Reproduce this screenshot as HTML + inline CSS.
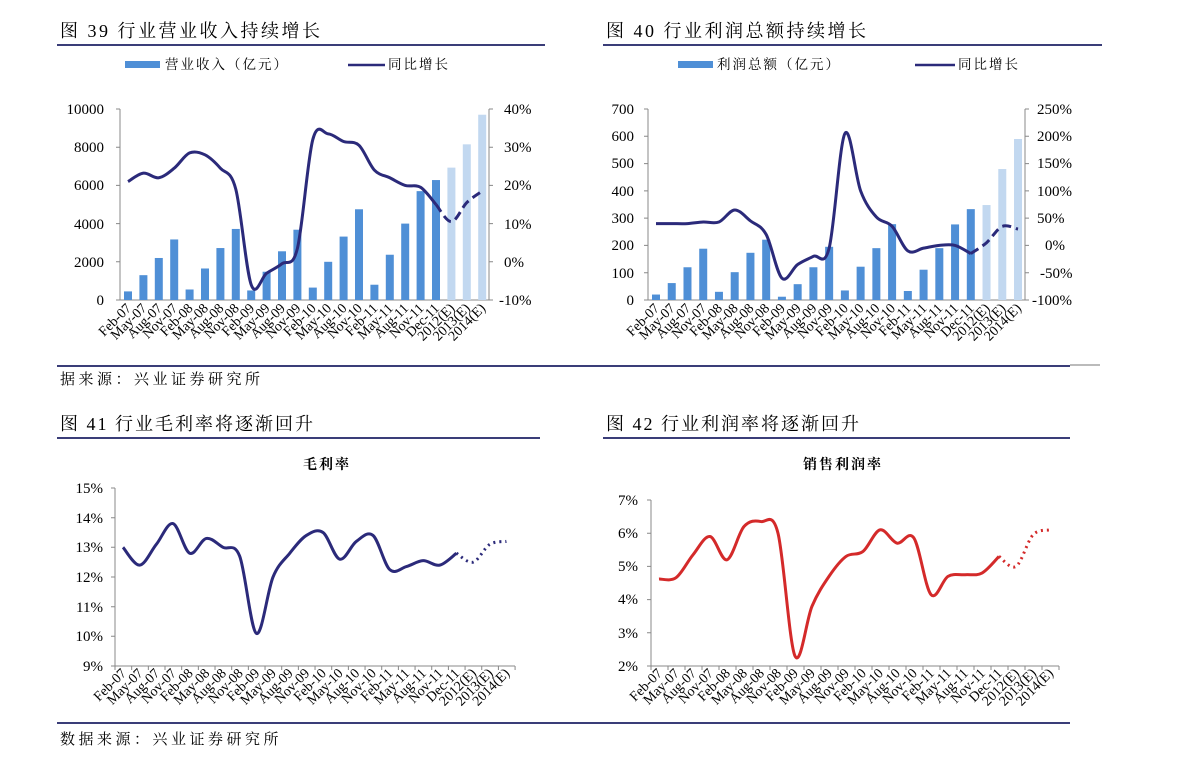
<!DOCTYPE html>
<html><head><meta charset="utf-8"><style>
body{margin:0;background:#fff;width:1191px;height:767px;overflow:hidden}
svg{position:absolute;left:0;top:0}
text{font-family:"Liberation Serif","Noto Serif CJK SC",serif;fill:#000}
.h{font-family:"Liberation Serif","Noto Serif CJK SC",serif;font-size:18px;letter-spacing:2.5px}
.h2{font-family:"Liberation Serif","Noto Serif CJK SC",serif;font-size:18px;letter-spacing:2px}
.lg{font-family:"Liberation Serif","Noto Serif CJK SC",serif;font-size:13.5px;letter-spacing:2px}
.src{font-size:15px;letter-spacing:3.5px}
.t{font-size:15px}
.x{font-size:14px}
</style></head><body>
<svg width="1191" height="767" viewBox="0 0 1191 767">
<text class="h" x="60" y="37">图 39 行业营业收入持续增长</text>
<text class="h" x="606" y="37">图 40 行业利润总额持续增长</text>
<line x1="57" y1="45" x2="545" y2="45" stroke="#3a3d78" stroke-width="2"/>
<line x1="603" y1="45" x2="1102" y2="45" stroke="#3a3d78" stroke-width="2"/>
<rect x="125" y="61" width="35" height="7" fill="#4f8fd6"/>
<text class="lg" x="165" y="69">营业收入（亿元）</text>
<line x1="348" y1="65" x2="385" y2="65" stroke="#2b2a7a" stroke-width="2.5"/>
<text class="lg" x="388" y="69">同比增长</text>
<rect x="678" y="61" width="35" height="7" fill="#4f8fd6"/>
<text class="lg" x="717" y="69">利润总额（亿元）</text>
<line x1="915" y1="65" x2="955" y2="65" stroke="#2b2a7a" stroke-width="2.5"/>
<text class="lg" x="958" y="69">同比增长</text>

<line x1="57" y1="366" x2="1070" y2="366" stroke="#3a3d78" stroke-width="2"/>
<line x1="1070" y1="365" x2="1100" y2="365" stroke="#777" stroke-width="1"/>
<text class="src" x="60" y="384">据来源：兴业证券研究所</text>
<text class="h2" x="60" y="430">图 41 行业毛利率将逐渐回升</text>
<text class="h2" x="606" y="430">图 42 行业利润率将逐渐回升</text>
<line x1="57" y1="438" x2="540" y2="438" stroke="#3a3d78" stroke-width="2"/>
<line x1="603" y1="438" x2="1070" y2="438" stroke="#3a3d78" stroke-width="2"/>
<line x1="57" y1="723" x2="1070" y2="723" stroke="#3a3d78" stroke-width="2"/>
<text class="src" x="60" y="744">数据来源：兴业证券研究所</text>

<g stroke="#888" stroke-width="1" fill="none">
<path d="M120,109V300H489V109"/>
<path d="M116,109H120M116,147.2H120M116,185.4H120M116,223.6H120M116,261.8H120M116,300H120"/>
<path d="M489,109H493M489,147.2H493M489,185.4H493M489,223.6H493M489,261.8H493M489,300H493"/>
<path d="M648,109V300H1025V109"/>
<path d="M644,109H648M644,136.3H648M644,163.6H648M644,190.9H648M644,218.1H648M644,245.4H648M644,272.7H648M644,300H648"/>
<path d="M1025,109H1029M1025,136.3H1029M1025,163.6H1029M1025,190.9H1029M1025,218.1H1029M1025,245.4H1029M1025,272.7H1029M1025,300H1029"/>
<path d="M115,488V666H515"/>
<path d="M111,488H115M111,517.7H115M111,547.3H115M111,577H115M111,606.7H115M111,636.3H115M111,666H115"/>
<path d="M651,500V666H1059"/>
<path d="M647,500H651M647,533.2H651M647,566.4H651M647,599.6H651M647,632.8H651M647,666H651"/>
</g>
<g id="ticks3" stroke="#888"></g>
<g id="bars"></g>
<g id="lines"></g>

<g class="t" text-anchor="end">
<text x="104" y="114">10000</text><text x="104" y="152">8000</text><text x="104" y="190">6000</text><text x="104" y="229">4000</text><text x="104" y="267">2000</text><text x="104" y="305">0</text>
<text x="634" y="114">700</text><text x="634" y="141">600</text><text x="634" y="168">500</text><text x="634" y="196">400</text><text x="634" y="223">300</text><text x="634" y="250">200</text><text x="634" y="278">100</text><text x="634" y="305">0</text>
<text x="103" y="493">15%</text><text x="103" y="523">14%</text><text x="103" y="552">13%</text><text x="103" y="582">12%</text><text x="103" y="612">11%</text><text x="103" y="641">10%</text><text x="103" y="671">9%</text>
<text x="638" y="505">7%</text><text x="638" y="538">6%</text><text x="638" y="571">5%</text><text x="638" y="604">4%</text><text x="638" y="638">3%</text><text x="638" y="671">2%</text>
</g>
<g class="t">
<text x="504" y="114">40%</text><text x="504" y="152">30%</text><text x="504" y="190">20%</text><text x="504" y="229">10%</text><text x="504" y="267">0%</text><text x="499" y="305">-10%</text>
<text x="1037" y="114">250%</text><text x="1037" y="141">200%</text><text x="1037" y="168">150%</text><text x="1037" y="196">100%</text><text x="1037" y="223">50%</text><text x="1045" y="250">0%</text><text x="1040" y="278">-50%</text><text x="1032" y="305">-100%</text>
</g>
<text x="327" y="469" font-size="14" font-weight="bold" text-anchor="middle" letter-spacing="2">毛利率</text>
<text x="843" y="469" font-size="14" font-weight="bold" text-anchor="middle" letter-spacing="2">销售利润率</text>

<g class="x" text-anchor="end">
<text transform="translate(132,309) rotate(-45)">Feb-07</text>
<text transform="translate(147.4,309) rotate(-45)">May-07</text>
<text transform="translate(162.8,309) rotate(-45)">Aug-07</text>
<text transform="translate(178.2,309) rotate(-45)">Nov-07</text>
<text transform="translate(193.6,309) rotate(-45)">Feb-08</text>
<text transform="translate(209,309) rotate(-45)">May-08</text>
<text transform="translate(224.4,309) rotate(-45)">Aug-08</text>
<text transform="translate(239.8,309) rotate(-45)">Nov-08</text>
<text transform="translate(255.2,309) rotate(-45)">Feb-09</text>
<text transform="translate(270.6,309) rotate(-45)">May-09</text>
<text transform="translate(286,309) rotate(-45)">Aug-09</text>
<text transform="translate(301.4,309) rotate(-45)">Nov-09</text>
<text transform="translate(316.8,309) rotate(-45)">Feb-10</text>
<text transform="translate(332.2,309) rotate(-45)">May-10</text>
<text transform="translate(347.6,309) rotate(-45)">Aug-10</text>
<text transform="translate(363,309) rotate(-45)">Nov-10</text>
<text transform="translate(378.4,309) rotate(-45)">Feb-11</text>
<text transform="translate(393.8,309) rotate(-45)">May-11</text>
<text transform="translate(409.2,309) rotate(-45)">Aug-11</text>
<text transform="translate(424.6,309) rotate(-45)">Nov-11</text>
<text transform="translate(440,309) rotate(-45)">Dec-11</text>
<text transform="translate(455.4,309) rotate(-45)">2012(E)</text>
<text transform="translate(470.8,309) rotate(-45)">2013(E)</text>
<text transform="translate(486.2,309) rotate(-45)">2014(E)</text>
</g>
<g class="x" text-anchor="end">
<text transform="translate(660,309) rotate(-45)">Feb-07</text>
<text transform="translate(675.7,309) rotate(-45)">May-07</text>
<text transform="translate(691.5,309) rotate(-45)">Aug-07</text>
<text transform="translate(707.2,309) rotate(-45)">Nov-07</text>
<text transform="translate(723,309) rotate(-45)">Feb-08</text>
<text transform="translate(738.7,309) rotate(-45)">May-08</text>
<text transform="translate(754.4,309) rotate(-45)">Aug-08</text>
<text transform="translate(770.2,309) rotate(-45)">Nov-08</text>
<text transform="translate(785.9,309) rotate(-45)">Feb-09</text>
<text transform="translate(801.7,309) rotate(-45)">May-09</text>
<text transform="translate(817.4,309) rotate(-45)">Aug-09</text>
<text transform="translate(833.1,309) rotate(-45)">Nov-09</text>
<text transform="translate(848.9,309) rotate(-45)">Feb-10</text>
<text transform="translate(864.6,309) rotate(-45)">May-10</text>
<text transform="translate(880.4,309) rotate(-45)">Aug-10</text>
<text transform="translate(896.1,309) rotate(-45)">Nov-10</text>
<text transform="translate(911.8,309) rotate(-45)">Feb-11</text>
<text transform="translate(927.6,309) rotate(-45)">May-11</text>
<text transform="translate(943.3,309) rotate(-45)">Aug-11</text>
<text transform="translate(959.1,309) rotate(-45)">Nov-11</text>
<text transform="translate(974.8,309) rotate(-45)">Dec-11</text>
<text transform="translate(990.5,309) rotate(-45)">2012(E)</text>
<text transform="translate(1006.3,309) rotate(-45)">2013(E)</text>
<text transform="translate(1022,309) rotate(-45)">2014(E)</text>
</g>
<g class="x" text-anchor="end">
<text transform="translate(127,674) rotate(-45)">Feb-07</text>
<text transform="translate(143.7,674) rotate(-45)">May-07</text>
<text transform="translate(160.3,674) rotate(-45)">Aug-07</text>
<text transform="translate(177,674) rotate(-45)">Nov-07</text>
<text transform="translate(193.7,674) rotate(-45)">Feb-08</text>
<text transform="translate(210.3,674) rotate(-45)">May-08</text>
<text transform="translate(227,674) rotate(-45)">Aug-08</text>
<text transform="translate(243.7,674) rotate(-45)">Nov-08</text>
<text transform="translate(260.3,674) rotate(-45)">Feb-09</text>
<text transform="translate(277,674) rotate(-45)">May-09</text>
<text transform="translate(293.7,674) rotate(-45)">Aug-09</text>
<text transform="translate(310.3,674) rotate(-45)">Nov-09</text>
<text transform="translate(327,674) rotate(-45)">Feb-10</text>
<text transform="translate(343.7,674) rotate(-45)">May-10</text>
<text transform="translate(360.3,674) rotate(-45)">Aug-10</text>
<text transform="translate(377,674) rotate(-45)">Nov-10</text>
<text transform="translate(393.7,674) rotate(-45)">Feb-11</text>
<text transform="translate(410.3,674) rotate(-45)">May-11</text>
<text transform="translate(427,674) rotate(-45)">Aug-11</text>
<text transform="translate(443.7,674) rotate(-45)">Nov-11</text>
<text transform="translate(460.3,674) rotate(-45)">Dec-11</text>
<text transform="translate(477,674) rotate(-45)">2012(E)</text>
<text transform="translate(493.7,674) rotate(-45)">2013(E)</text>
<text transform="translate(510.3,674) rotate(-45)">2014(E)</text>
</g>
<g class="x" text-anchor="end">
<text transform="translate(663,674) rotate(-45)">Feb-07</text>
<text transform="translate(680,674) rotate(-45)">May-07</text>
<text transform="translate(697,674) rotate(-45)">Aug-07</text>
<text transform="translate(714,674) rotate(-45)">Nov-07</text>
<text transform="translate(731,674) rotate(-45)">Feb-08</text>
<text transform="translate(748,674) rotate(-45)">May-08</text>
<text transform="translate(765,674) rotate(-45)">Aug-08</text>
<text transform="translate(782,674) rotate(-45)">Nov-08</text>
<text transform="translate(799,674) rotate(-45)">Feb-09</text>
<text transform="translate(816,674) rotate(-45)">May-09</text>
<text transform="translate(833,674) rotate(-45)">Aug-09</text>
<text transform="translate(850,674) rotate(-45)">Nov-09</text>
<text transform="translate(867,674) rotate(-45)">Feb-10</text>
<text transform="translate(884,674) rotate(-45)">May-10</text>
<text transform="translate(901,674) rotate(-45)">Aug-10</text>
<text transform="translate(918,674) rotate(-45)">Nov-10</text>
<text transform="translate(935,674) rotate(-45)">Feb-11</text>
<text transform="translate(952,674) rotate(-45)">May-11</text>
<text transform="translate(969,674) rotate(-45)">Aug-11</text>
<text transform="translate(986,674) rotate(-45)">Nov-11</text>
<text transform="translate(1003,674) rotate(-45)">Dec-11</text>
<text transform="translate(1020,674) rotate(-45)">2012(E)</text>
<text transform="translate(1037,674) rotate(-45)">2013(E)</text>
<text transform="translate(1054,674) rotate(-45)">2014(E)</text>
</g>
</svg>
<script>
const NS="http://www.w3.org/2000/svg";
const bars=document.getElementById('bars'),lines=document.getElementById('lines'),tk=document.getElementById('ticks3');
function el(p,n,a){const e=document.createElementNS(NS,n);for(const k in a)e.setAttribute(k,a[k]);p.appendChild(e);return e;}
function cr(pts){let d="M"+pts[0][0]+","+pts[0][1];for(let i=0;i<pts.length-1;i++){const p0=pts[Math.max(0,i-1)],p1=pts[i],p2=pts[i+1],p3=pts[Math.min(pts.length-1,i+2)];
d+=` C${p1[0]+(p2[0]-p0[0])/6},${p1[1]+(p2[1]-p0[1])/6} ${p2[0]-(p3[0]-p1[0])/6},${p2[1]-(p3[1]-p1[1])/6} ${p2[0]},${p2[1]}`;}return d;}
function chart(x0,dx,vals,fy,color,split,dash,w){const pts=vals.map((v,i)=>[x0+i*dx,fy(v)]);
el(lines,'path',{d:cr(pts.slice(0,split+1)),stroke:color,'stroke-width':w,fill:'none'});
el(lines,'path',{d:cr(pts.slice(split)),stroke:color,'stroke-width':w,fill:'none','stroke-dasharray':dash});}
const b1=[450,1300,2200,3170,550,1650,2720,3720,500,1480,2550,3680,650,2000,3320,4750,800,2370,4000,5700,6280,6930,8150,9700];
b1.forEach((v,i)=>{const h=v/10000*191;el(bars,'rect',{x:128+i*15.4-4,y:300-h,width:8,height:h,fill:i>20?'#c2d8f0':'#4f8fd6'});});
const b2=[20,62,120,188,30,102,173,221,12,58,120,195,35,122,190,278,33,111,190,277,333,348,480,590];
b2.forEach((v,i)=>{const h=v/700*191;el(bars,'rect',{x:656+i*15.74-4,y:300-h,width:8,height:h,fill:i>20?'#c2d8f0':'#4f8fd6'});});
chart(128,15.4,[21,23.2,22,24.5,28.5,28,24.5,19,-6,-3,-0.5,3.5,32,33.5,31.5,30.5,24,22,20,19.5,15,10.5,15.5,18.5],v=>300-(v+10)*3.82,'#2b2a7a',20,'9,5',3);
chart(656,15.74,[40,40,40,43,43,65,45,20,-60,-35,-20,-5,205,100,52,35,-10,-5,0,0,-15,5,35,30],v=>300-(v+100)*0.5457,'#2b2a7a',20,'9,5',3);
chart(123,16.67,[13.0,12.4,13.1,13.8,12.8,13.3,13.0,12.7,10.1,12.0,12.8,13.4,13.5,12.6,13.2,13.4,12.25,12.35,12.55,12.4,12.8,12.5,13.1,13.2],v=>666-(v-9)*29.67,'#2b2a7a',20,'2,4',3);
chart(659,17,[4.62,4.66,5.35,5.9,5.2,6.2,6.35,6.0,2.3,3.8,4.7,5.3,5.45,6.1,5.7,5.85,4.15,4.7,4.75,4.8,5.3,5.0,5.95,6.1],v=>666-(v-2)*33.2,'#d42a2a',20,'2,4',3);
for(let i=0;i<=24;i++){el(tk,'line',{x1:115+i*16.67,y1:666,x2:115+i*16.67,y2:670});el(tk,'line',{x1:651+i*17,y1:666,x2:651+i*17,y2:670});}
</script>
</body></html>
